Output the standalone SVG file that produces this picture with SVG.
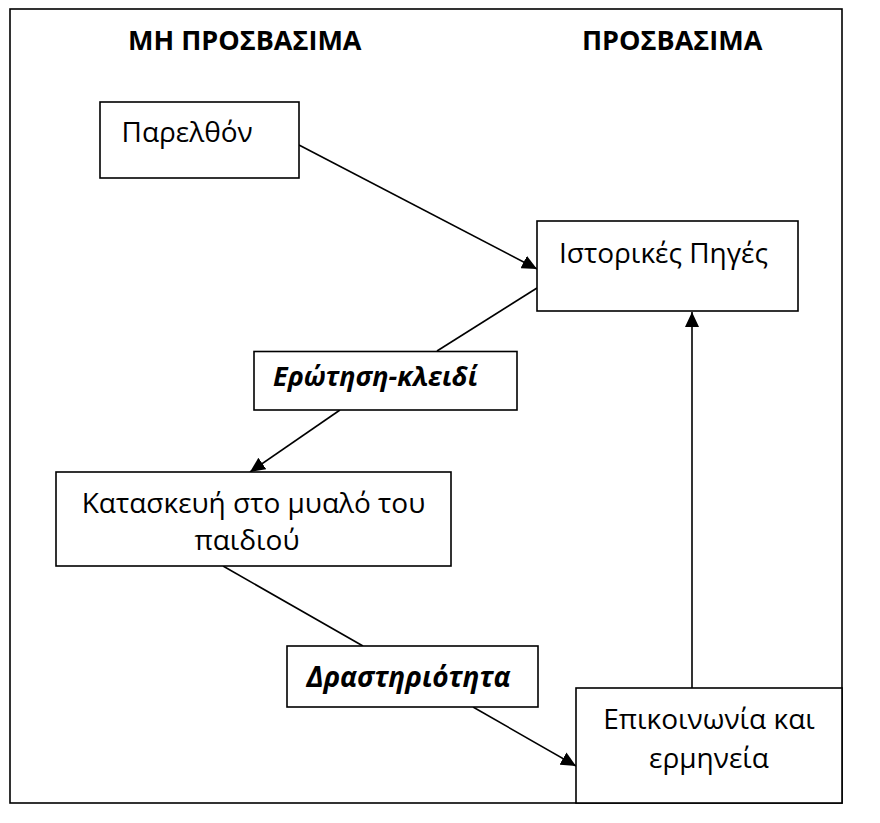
<svg xmlns="http://www.w3.org/2000/svg" width="880" height="823" viewBox="0 0 880 823">
  <defs>
    <marker id="arrow" markerUnits="userSpaceOnUse" markerWidth="16" markerHeight="14" refX="15" refY="7" orient="auto">
      <path d="M0,0 L15,7 L0,14 z" fill="#000"/>
    </marker>
    <style>
      .box { fill: #fff; stroke: #000; stroke-width: 1.6; }
      .frame { fill: none; stroke: #000; stroke-width: 1.6; }
      .conn { fill: none; stroke: #000; stroke-width: 1.6; }
      .hdr { font-family: "Open Sans", "DejaVu Sans", sans-serif; font-weight: 700; font-size: 27px; fill: #000; }
      .txt { font-family: "Open Sans", "DejaVu Sans", sans-serif; font-size: 28px; fill: #000; }
      .lbl { font-family: "Open Sans", "DejaVu Sans", sans-serif; font-weight: 700; font-style: italic; font-size: 27px; fill: #000; }
    </style>
  </defs>
  <rect width="880" height="823" fill="#fff"/>
  <rect class="frame" x="10" y="9" width="832" height="794"/>

  <g id="headers">
    <text class="hdr" x="128" y="50">ΜΗ ΠΡΟΣΒΑΣΙΜΑ</text>
    <text class="hdr" x="582" y="50">ΠΡΟΣΒΑΣΙΜΑ</text>
  </g>

  <g id="connectors">
    <line class="conn" x1="299" y1="145" x2="537" y2="269" marker-end="url(#arrow)"/>
    <line class="conn" x1="537" y1="288" x2="437" y2="351"/>
    <line class="conn" x1="340" y1="410" x2="250" y2="472" marker-end="url(#arrow)"/>
    <line class="conn" x1="223" y1="566" x2="363" y2="646"/>
    <line class="conn" x1="473" y1="707" x2="576" y2="766" marker-end="url(#arrow)"/>
    <line class="conn" x1="692" y1="688" x2="692" y2="312" marker-end="url(#arrow)"/>
  </g>

  <g id="parelthon">
    <rect class="box" x="100" y="102" width="199" height="76"/>
    <text class="txt" x="121.5" y="141.5">Παρελθόν</text>
  </g>

  <g id="istorikes-piges">
    <rect class="box" x="537" y="221" width="261" height="90"/>
    <text class="txt" x="559" y="263">Ιστορικές Πηγές</text>
  </g>

  <g id="erotisi-kleidi">
    <rect class="box" x="254" y="351.5" width="263" height="58.5"/>
    <text class="lbl" x="273" y="386">Ερώτηση-κλειδί</text>
  </g>

  <g id="kataskevi">
    <rect class="box" x="56" y="472" width="395" height="94"/>
    <text class="txt" x="253.5" y="512.5" text-anchor="middle">Κατασκευή στο μυαλό του</text>
    <text class="txt" x="247" y="550" text-anchor="middle">παιδιού</text>
  </g>

  <g id="drastiriotita">
    <rect class="box" x="287" y="646" width="251" height="61"/>
    <text class="lbl" x="306.5" y="687" style="font-size:28px">Δραστηριότητα</text>
  </g>

  <g id="epikoinonia">
    <rect class="box" x="576" y="688" width="266" height="115"/>
    <text class="txt" x="709" y="729" text-anchor="middle">Επικοινωνία και</text>
    <text class="txt" x="709" y="768" text-anchor="middle">ερμηνεία</text>
  </g>
</svg>
